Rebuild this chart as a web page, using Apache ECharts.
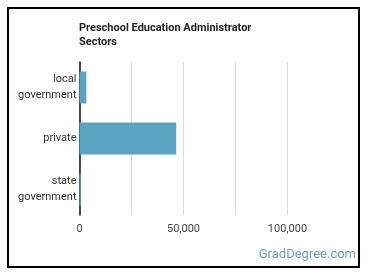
<!DOCTYPE html>
<html>
<head>
<meta charset="utf-8">
<script src="https://cdn.jsdelivr.net/npm/echarts@6/dist/echarts.min.js"></script>
<style>
  html, body { margin: 0; padding: 0; background: #fff; }
  #chart { width: 370px; height: 278px; }
</style>
</head>
<body>
<div id="chart"></div>
<script>
  // data
  const categories = ['local\ngovernment', 'private', 'state\ngovernment'];
  const employees = [3300, 46500, 600];
  const titleLines = ['Preschool Education Administrator', 'Sectors'];

  const chart = echarts.init(document.getElementById('chart'), null, { renderer: 'canvas' });
  const font = 'Roboto, "Liberation Sans", sans-serif';

  chart.setOption({
    animation: false,
    title: {
      text: titleLines.join('\n'),
      left: 79, top: 21, padding: 0,
      textStyle: { fontFamily: font, fontSize: 11, fontWeight: 'bold', color: '#222', lineHeight: 14 },
    },
    graphic: [
      {
        type: 'rect',
        shape: { x: 8, y: 8, width: 351, height: 259 },
        style: { fill: 'none', stroke: '#000', lineWidth: 2 },
        silent: true,
      },
      {
        type: 'text',
        right: 14, top: 248,
        style: { text: 'GradDegree.com', fill: '#6b9fbd', font: '13px ' + font },
      },
    ],
    grid: { left: 79.5, right: 30.5, top: 62, bottom: 63, containLabel: false },
    xAxis: {
      type: 'value',
      min: 0, max: 125000, interval: 25000,
      axisLine: { show: false },
      axisTick: { show: false },
      axisLabel: {
        color: '#444', fontFamily: font, fontSize: 11, margin: 9,
        formatter: (v) => (v % 50000 === 0 && v < 125000 ? v.toLocaleString('en-US') : ''),
      },
      splitLine: { show: true, showMaxLine: false, lineStyle: { color: '#dcdcdc', width: 1 } },
    },
    yAxis: {
      type: 'category',
      data: categories,
      inverse: true,
      axisLine: { show: true, lineStyle: { color: '#111', width: 1.5 } },
      axisTick: { show: false },
      axisLabel: { color: '#333', fontFamily: font, fontSize: 11, lineHeight: 16, margin: 3, align: 'right' },
      splitLine: { show: false },
    },
    series: [{
      type: 'bar',
      data: employees,
      barWidth: 32,
      itemStyle: { color: '#5ba4c2' },
    }],
  });
</script>
</body>
</html>
